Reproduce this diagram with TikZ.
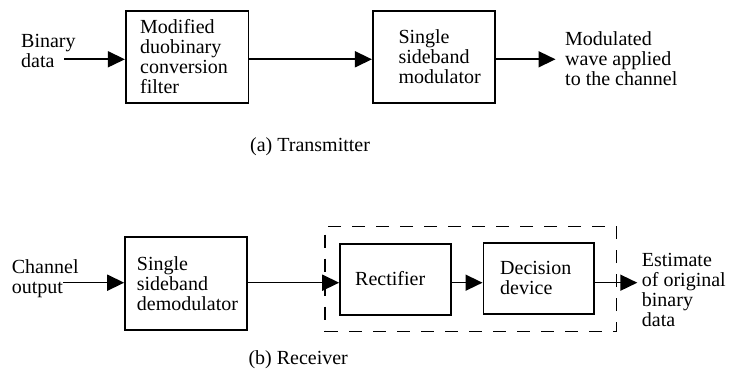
\documentclass[tikz,border=0pt]{standalone}
\usepackage{fontspec}
\setmainfont{Liberation Serif}
\usetikzlibrary{arrows.meta,calc}
\tikzset{
  blk/.style={draw,line width=1.6pt,inner sep=0pt},
  txt/.style={inner sep=0pt,align=left,font=\fontsize{20}{20}\selectfont},
  arr/.style={line width=1.6pt,-{Triangle[length=17pt,width=16pt]}},
  grpbox/.style={draw,line width=1.6pt,inner sep=0pt,dash pattern=on 13pt off 11pt}}
\begin{document}
\begin{tikzpicture}[x=1pt,y=-1pt]
\useasboundingbox (0,0) rectangle (729,371);
\path[fill=white] (0,0) rectangle (729,371);

% transmitter
\node[blk,minimum width=122.6pt,minimum height=92pt] (b1) at (187,57) {};
\node[blk,minimum width=122.3pt,minimum height=92pt] (b2) at (433.9,57) {};
\coordinate (in1) at (64,59.3);
\coordinate (out1) at (555.5,59.3);
\draw[arr] (in1) -- (in1 -| b1.west);
\draw[arr] (b1.east |- in1) -- (b2.west |- in1);
\draw[arr] (b2.east |- in1) -- (out1);

\node[txt,anchor=west] (tin1) at (21,51) {Binary\\data};
\node[txt,anchor=west] (t1) at (140,56.5) {Modified\\duobinary\\conversion\\filter};
\node[txt,anchor=west] (t2) at (398.3,56.7) {Single\\sideband\\modulator};
\node[txt,anchor=west] (tout1) at (565,58.7) {Modulated\\wave applied\\to the channel};
\node[txt,anchor=base west] (cap1) at (250,152) {(a) Transmitter};

% receiver
\node[blk,minimum width=122pt,minimum height=93pt] (b3) at (186,283.7) {};
\node[grpbox,minimum width=291.5pt,minimum height=105pt] (grp) at (470.75,279.2) {};
\node[blk,minimum width=110.7pt,minimum height=71pt] (b4) at (395.35,279.5) {};
\node[blk,minimum width=110.7pt,minimum height=70.7pt] (b5) at (538.65,278.65) {};
\coordinate (in2) at (63,282.7);
\coordinate (out2) at (637.3,282.7);
\draw[arr] (in2) -- (in2 -| b3.west);
\draw[arr] (b3.east |- in2) -- (b4.west |- in2);
\draw[arr] (b4.east |- in2) -- (b5.west |- in2);
\draw[arr] (b5.east |- in2) -- (out2);

\node[txt,anchor=west] (tin2) at (11.7,279) {Channel\\output};
\node[txt,anchor=west] (t3) at (136.7,283.5) {Single\\sideband\\demodulator};
\node[txt,anchor=base west] (t4) at (355,286) {Rectifier};
\node[txt,anchor=west] (t5) at (500,277.7) {Decision\\device};
\node[txt,anchor=west] (tout2) at (641.7,290) {Estimate\\of original\\binary\\data};
\node[txt,anchor=base west] (cap2) at (248.3,365) {(b) Receiver};
\end{tikzpicture}
\end{document}
